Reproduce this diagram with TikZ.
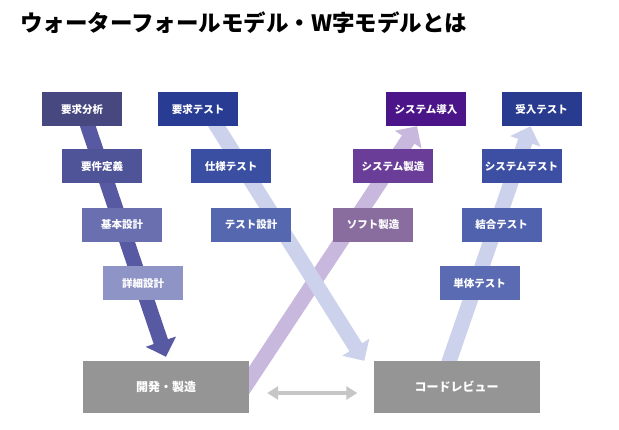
\documentclass[tikz,border=0pt]{standalone}
\usepackage{fontspec}
\setmainfont{Noto Sans CJK JP}
\usepackage{tikz}
\usetikzlibrary{arrows.meta, positioning, backgrounds}

\definecolor{reqA}{HTML}{46487F}
\definecolor{reqB}{HTML}{4F5398}
\definecolor{reqC}{HTML}{6A6FB0}
\definecolor{reqD}{HTML}{8F94C6}
\definecolor{tstA}{HTML}{293C93}
\definecolor{tstB}{HTML}{3A4EA2}
\definecolor{tstC}{HTML}{5567AE}
\definecolor{sysA}{HTML}{4B1589}
\definecolor{sysB}{HTML}{6A3E98}
\definecolor{sysC}{HTML}{8A6D9F}
\definecolor{accA}{HTML}{283B8F}
\definecolor{accB}{HTML}{3D4FA3}
\definecolor{accC}{HTML}{5062AE}
\definecolor{accD}{HTML}{5A6BB3}
\definecolor{boxgray}{HTML}{959595}
\definecolor{arrgray}{HTML}{C6C6C6}
\definecolor{banddark}{HTML}{5759A2}
\definecolor{bandblue}{HTML}{CDD2EC}
\definecolor{bandpurple}{HTML}{C9B8DE}

\begin{document}
\begin{tikzpicture}[
  x=1pt, y=-1pt,
  node distance=23pt,
  stage/.style={rectangle, minimum width=80pt, minimum height=34pt,
                inner sep=0pt, text=white,
                font=\bfseries\fontsize{10.5}{12}\selectfont},
  base/.style={rectangle, fill=boxgray, minimum width=166pt,
               minimum height=52pt, inner sep=0pt, text=white,
               font=\bfseries\fontsize{12}{14}\selectfont},
  band/.style={line width=15pt, -{Triangle[width=31pt, length=16pt]}},
  both/.style={line width=4pt, draw=arrgray,
               {Triangle[width=13pt, length=11pt]}-{Triangle[width=13pt, length=11pt]}}
]
\useasboundingbox (0,0) rectangle (619,429);

\node[anchor=west, inner sep=0pt, font=\bfseries\fontsize{22.5}{26}\selectfont]
  (title) at (20,22.5) {ウォーターフォールモデル・W字モデルとは};

% requirements side
\node[stage, fill=reqA] (req) at (82,109) {要求分析};
\node[stage, fill=reqB, below=of req, xshift=20pt] (reqdef) {要件定義};
\node[stage, fill=reqC, below=24pt of reqdef, xshift=20pt] (basic) {基本設計};
\node[stage, fill=reqD, below=24pt of basic, xshift=21pt] (detail) {詳細設計};

% test design side
\node[stage, fill=tstA] (rtest) at (198,109) {要求テスト};
\node[stage, fill=tstB, below=of rtest, xshift=33pt] (spectest) {仕様テスト};
\node[stage, fill=tstC, below=24pt of spectest, xshift=20pt] (tdesign) {テスト設計};

% build side
\node[stage, fill=sysA] (sysin) at (426,109) {システム導入};
\node[stage, fill=sysB, below=of sysin, xshift=-33pt] (sysmake) {システム製造};
\node[stage, fill=sysC, below=24pt of sysmake, xshift=-20pt] (softmake) {ソフト製造};

% test side
\node[stage, fill=accA] (accept) at (541.5,109) {受入テスト};
\node[stage, fill=accB, below=of accept, xshift=-20pt] (systest) {システムテスト};
\node[stage, fill=accC, below=24pt of systest, xshift=-20pt] (inttest) {結合テスト};
\node[stage, fill=accD, below=24pt of inttest, xshift=-22pt] (unittest) {単体テスト};

\node[base] (dev) at (166,387) {開発・製造};
\node[base] (review) at (456.5,387) {コードレビュー};

\begin{scope}[on background layer]
  \fill[white] (0,0) rectangle (619,429);
  \draw[band, draw=banddark, fill=banddark] (req.center) -- ([yshift=4pt]dev.north);
  \draw[band, draw=bandpurple, fill=bandpurple]
    ([xshift=-13pt, yshift=-13pt]dev.east) -- ([xshift=-9pt]sysin.south);
  \draw[band, draw=bandblue, fill=bandblue]
    ([xshift=8pt]rtest.center) -- ([xshift=-9pt]review.north west);
  \draw[band, draw=bandblue, fill=bandblue]
    ([xshift=-12pt, yshift=-14pt]review.north) -- ([xshift=-11pt]accept.south);
\end{scope}

\draw[both] ([xshift=18pt, yshift=-6pt]dev.east) -- ([xshift=-16pt, yshift=-6pt]review.west);
\end{tikzpicture}
\end{document}
